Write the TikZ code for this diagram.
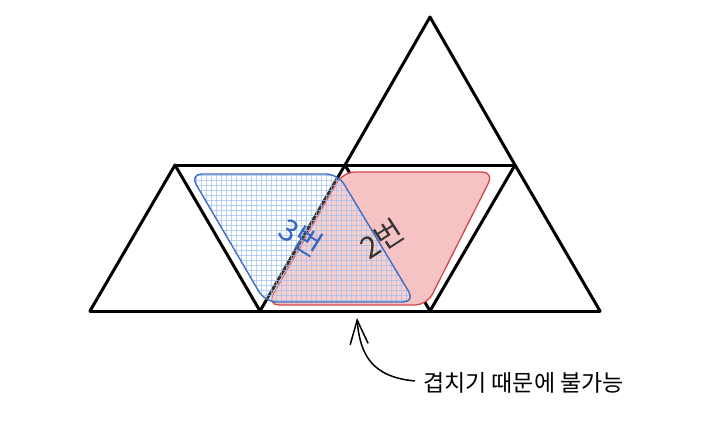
\documentclass[tikz,border=0pt]{standalone}
\usepackage{fontspec}
\newfontfamily\kr{Noto Sans CJK KR}
\usetikzlibrary{arrows.meta}
\definecolor{redfill}{HTML}{F5C3C3}
\definecolor{redline}{HTML}{D24848}
\definecolor{blueline}{HTML}{3C6EC6}
\definecolor{bluegrid}{HTML}{9FC0EE}
\definecolor{bluetext}{HTML}{3366C0}
\definecolor{graytext}{HTML}{333333}
\tikzset{
  tri/.style={line width=3pt, line join=round, line cap=round, black},
  redshape/.style={fill=redfill, draw=redline, line width=1.3pt, rounded corners=12pt},
  blueshape/.style={draw=blueline, line width=1.4pt, rounded corners=12pt},
  gridline/.style={draw=bluegrid, line width=0.8pt, draw opacity=0.7},
  label/.style={font=\kr\fontsize{30}{32}\selectfont, inner sep=0pt},
  note/.style={font=\kr\fontsize{23}{26}\selectfont, inner sep=0pt, anchor=west},
  notearrow/.style={line width=1.5pt, -{Straight Barb[length=24pt,width=18pt,line width=1.5pt]}}
}
\begin{document}
\begin{tikzpicture}[x=1pt,y=-1pt]
\useasboundingbox (0,0) rectangle (726,424);
% vertices
\coordinate (b1) at (90,311);
\coordinate (b2) at (260,311);
\coordinate (b3) at (430,311);
\coordinate (b4) at (600,311);
\coordinate (t1) at (175,165);
\coordinate (t2) at (345,165);
\coordinate (t3) at (515,165);
\coordinate (apex) at (430,17);
% triangles
\draw[tri] (b1) -- (b4);
\draw[tri] (t1) -- (t3);
\draw[tri] (b1) -- (t1) -- (b2) -- (t2) -- (b3) -- (t3) -- (b4);
\draw[tri] (t2) -- (apex) -- (t3);
% red region
\draw[redshape] (343,172) -- (494,172) -- (427,305) -- (267,305) -- cycle;
% blue region
\begin{scope}
  \clip[rounded corners=12pt] (190,174) -- (338,174) -- (415,302) -- (265,302) -- cycle;
  \fill[white, fill opacity=0.2] (180,165) rectangle (425,310);
  \foreach \gx in {186,191,...,424} { \draw[gridline] (\gx,168) -- (\gx,308); }
  \foreach \gy in {170,175,...,308} { \draw[gridline] (184,\gy) -- (422,\gy); }
\end{scope}
\draw[blueshape] (190,174) -- (338,174) -- (415,302) -- (265,302) -- cycle;
% labels
\node[label, text=bluetext, rotate=-32] (l3) at (301,237) {3번};
\node[label, text=graytext, rotate=33] (l2) at (382,239) {2번};
% note
\node[note] (note) at (423,383) {겹치기 때문에 불가능};
\coordinate (tip) at (357,318);
\draw[notearrow] (note.west) ++(-8,-2) .. controls (372,377) and (360,355) .. (tip);
\end{tikzpicture}
\end{document}
